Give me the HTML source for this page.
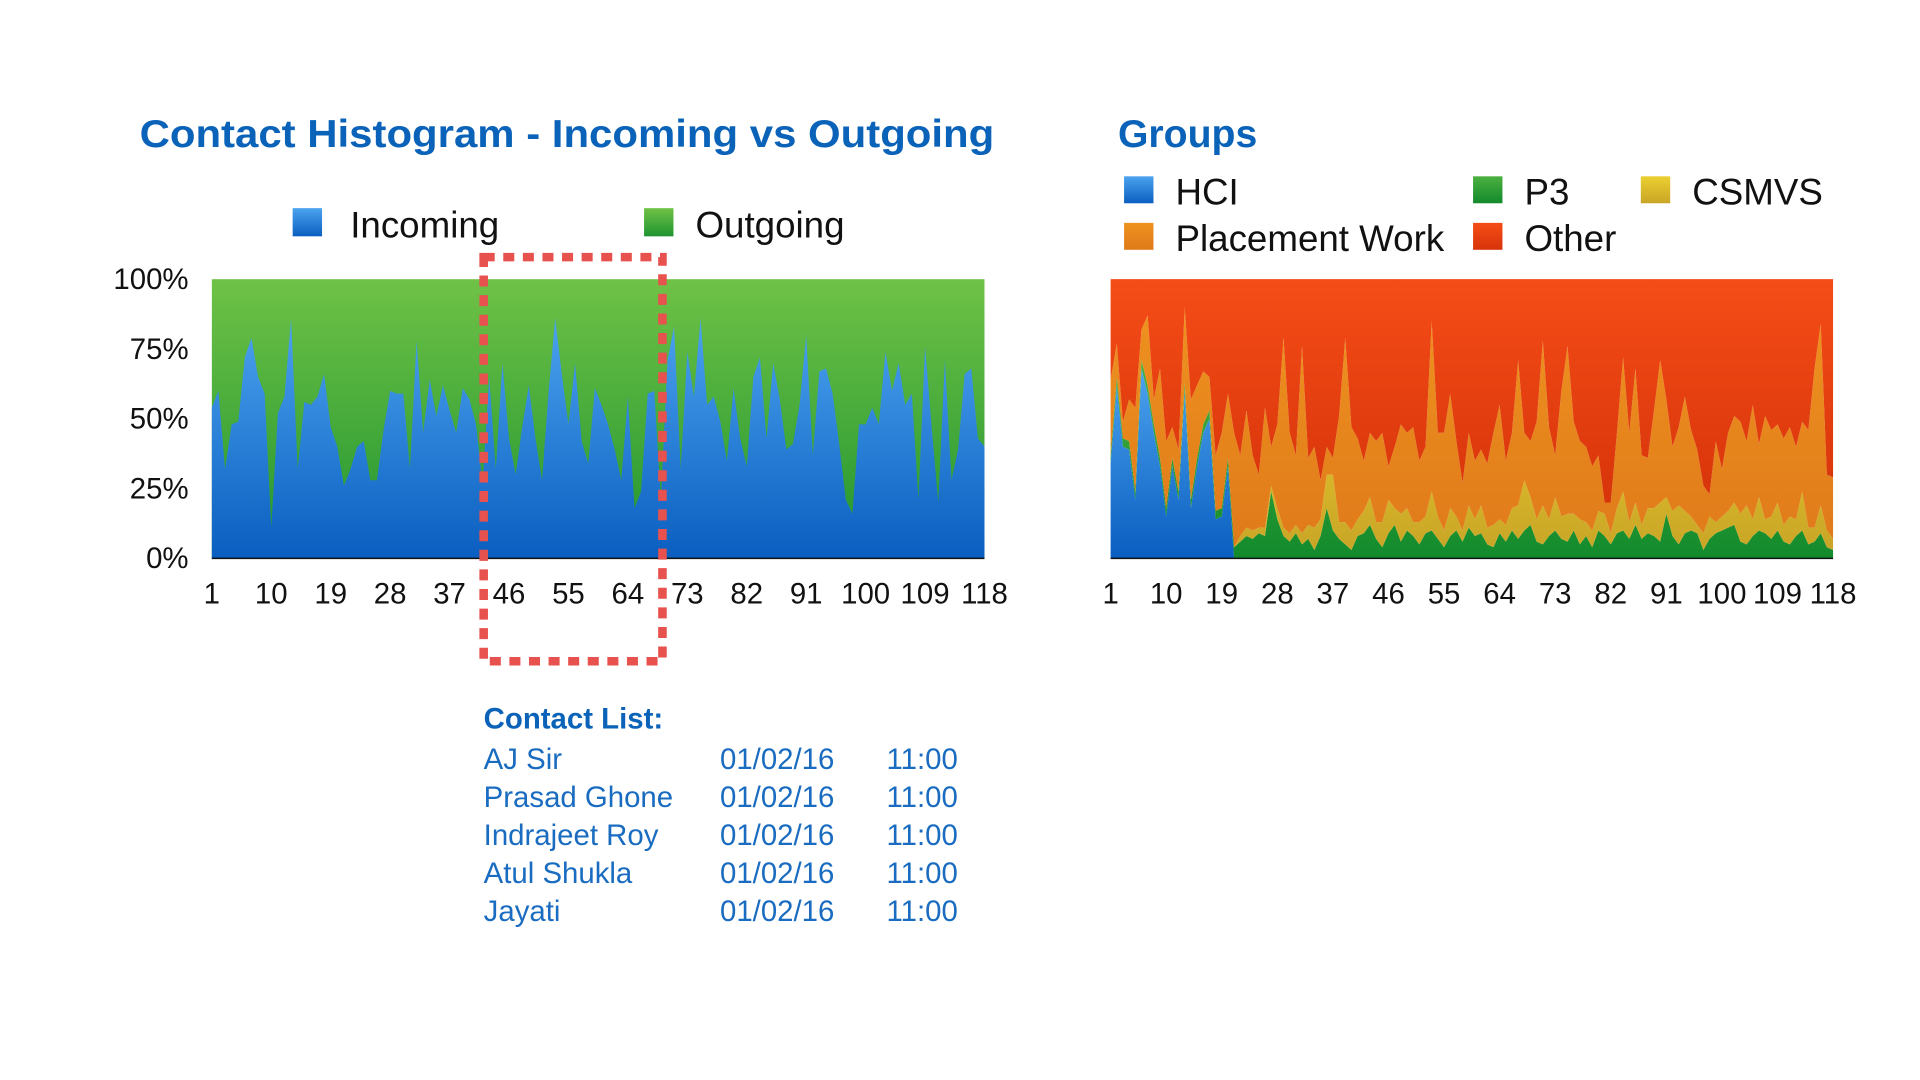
<!DOCTYPE html>
<html><head><meta charset="utf-8"><style>
html,body{margin:0;padding:0;background:#fff;width:1920px;height:1080px;overflow:hidden}
svg{display:block}
text{font-family:"Liberation Sans",sans-serif}
</style></head><body>
<svg id="root" width="1920" height="1080" viewBox="0 0 1568 882" preserveAspectRatio="none">
<defs>
<linearGradient id="gBlue" x1="0" y1="0" x2="0" y2="1"><stop offset="0" stop-color="#4ca3ee"/><stop offset="1" stop-color="#0a5ec0"/></linearGradient>
<linearGradient id="gGreen" x1="0" y1="0" x2="0" y2="1"><stop offset="0" stop-color="#6fc246"/><stop offset="1" stop-color="#1f9430"/></linearGradient>
<linearGradient id="gRed" x1="0" y1="0" x2="0" y2="1"><stop offset="0" stop-color="#f54d17"/><stop offset="1" stop-color="#d7340a"/></linearGradient>
<linearGradient id="gOrange" x1="0" y1="0" x2="0" y2="1"><stop offset="0" stop-color="#ee921f"/><stop offset="1" stop-color="#e07a1a"/></linearGradient>
<linearGradient id="gYellow" x1="0" y1="0" x2="0" y2="1"><stop offset="0" stop-color="#ecd030"/><stop offset="1" stop-color="#c9a526"/></linearGradient>
<linearGradient id="gP3" x1="0" y1="0" x2="0" y2="1"><stop offset="0" stop-color="#4cb040"/><stop offset="1" stop-color="#128a2c"/></linearGradient>
</defs>
<text x="114" y="120" font-size="32" font-weight="bold" fill="#0a63b8" textLength="698" lengthAdjust="spacingAndGlyphs">Contact Histogram - Incoming vs Outgoing</text>
<g>
<rect x="239" y="170" width="24" height="23" fill="url(#gBlue)"/>
<text x="286" y="194" font-size="30" fill="#111">Incoming</text>
<rect x="526" y="170" width="24" height="23" fill="url(#gGreen)"/>
<text x="568" y="194" font-size="30" fill="#111">Outgoing</text>
</g>
<g id="left"></g>
<rect x="395" y="210" width="146" height="330" fill="none" stroke="#e8524e" stroke-width="7" stroke-dasharray="9 7"/>
<text x="913" y="120" font-size="32" font-weight="bold" fill="#0a63b8">Groups</text>
<g>
<rect x="918" y="144" width="24" height="22" fill="url(#gBlue)"/>
<text x="960" y="167" font-size="30" fill="#111">HCI</text>
<rect x="1203" y="144" width="24" height="22" fill="url(#gP3)"/>
<text x="1245" y="167" font-size="30" fill="#111">P3</text>
<rect x="1340" y="144" width="24" height="22" fill="url(#gYellow)"/>
<text x="1382" y="167" font-size="30" fill="#111">CSMVS</text>
<rect x="918" y="182" width="24" height="22" fill="url(#gOrange)"/>
<text x="960" y="205" font-size="30" fill="#111">Placement Work</text>
<rect x="1203" y="182" width="24" height="22" fill="url(#gRed)"/>
<text x="1245" y="205" font-size="30" fill="#111">Other</text>
</g>
<g id="right"></g>
<g fill="#1a6cc0" font-size="24">
<text x="395" y="595" font-weight="bold" fill="#0a63b8">Contact List:</text>
<g><text x="395" y="628">AJ Sir</text><text x="588" y="628">01/02/16</text><text x="724" y="628">11:00</text></g>
<g><text x="395" y="659">Prasad Ghone</text><text x="588" y="659">01/02/16</text><text x="724" y="659">11:00</text></g>
<g><text x="395" y="690">Indrajeet Roy</text><text x="588" y="690">01/02/16</text><text x="724" y="690">11:00</text></g>
<g><text x="395" y="721">Atul Shukla</text><text x="588" y="721">01/02/16</text><text x="724" y="721">11:00</text></g>
<g><text x="395" y="752">Jayati</text><text x="588" y="752">01/02/16</text><text x="724" y="752">11:00</text></g>
</g>
</svg>
<script>
const xTickLabels = [1,10,19,28,37,46,55,64,73,82,91,100,109,118];
const yTickLabels = ["0%","25%","50%","75%","100%"];
const yTickValues = [0,25,50,75,100];
const incoming = [54,60,32,48,49,72,79,65,59,11, 52,58,86,32,56,55,58,66,47,40, 26,32,40,42,28,28,46,60,59,59, 32,78,45,64,51,62,53,45,61,57, 48,27,65,32,70,43,30,47,62,43, 28,60,86,66,48,70,42,34,61,55, 48,39,28,58,18,24,59,60,21,71, 83,32,74,58,86,55,58,49,35,61, 43,33,65,72,43,70,57,39,41,55, 80,37,67,68,59,41,21,16,48,48, 54,48,74,60,70,55,59,21,76,47, 20,71,28,39,66,68,43,40];
const hci = [34,62,40,39,21,68,59,45,33,15, 33,21,60,18,33,45,50,14,15,33];
const p3 = [3,3,3,3,3,3,3,3,3,3, 3,3,3,3,3,3,3,3,3,3, 4,6,8,7,9,8,24,14,8,6, 9,5,7,3,8,18,10,7,5,3, 8,9,12,7,4,9,12,6,10,8, 5,9,10,7,4,8,10,6,11,8, 9,5,4,9,6,10,7,10,12,6, 5,8,10,7,6,10,5,8,4,10, 8,5,9,10,7,12,7,9,8,6, 16,8,5,9,10,9,3,7,9,10, 11,12,6,5,8,10,9,7,10,6, 5,8,10,5,6,9,4,3];
const csmvs = [0,0,0,0,0,0,0,0,0,0, 0,0,0,0,0,0,0,0,0,0, 0,2,3,3,2,3,2,4,3,3, 3,4,5,8,6,12,20,6,8,7, 6,8,10,6,9,12,6,10,8,5, 8,6,14,8,6,10,5,4,8,6, 10,6,8,5,6,8,12,18,10,8, 14,6,12,8,10,6,9,5,6,7, 8,4,9,14,6,8,5,9,10,14, 6,9,14,8,5,3,6,8,4,5, 6,8,10,14,6,12,5,8,10,6, 10,6,14,6,5,10,6,4];
const other = [36,23,51,43,46,18,13,43,32,58, 53,61,10,43,38,33,35,63,55,41, 55,63,47,63,70,46,60,52,21,55, 63,24,64,60,72,60,64,49,21,53, 57,65,55,58,55,67,60,52,55,53, 65,60,15,55,55,41,58,73,55,65, 61,66,55,45,65,55,29,55,58,51, 22,53,63,40,24,51,58,60,67,63, 80,80,55,28,55,32,63,64,47,29, 43,60,53,42,54,61,74,77,58,68, 55,49,51,58,45,59,49,54,52,57, 53,60,51,54,32,16,70,71];

const NS="http://www.w3.org/2000/svg";
function mk(parent,tag,attrs){const e=document.createElementNS(NS,tag);for(const k in attrs)e.setAttribute(k,attrs[k]);parent.appendChild(e);return e;}
const N=incoming.length;

function drawAxes(g,x0,x1,y0,y1,withY){
  const xs=i=>x0+(i-1)*(x1-x0)/(N-1);
  xTickLabels.forEach(v=>{
    const t=mk(g,'text',{x:xs(v),y:493,'font-size':24,'text-anchor':'middle',fill:'#111'});
    
    
    t.textContent=v;
  });
  if(withY){
    yTickValues.forEach((v,k)=>{
      const t=mk(g,'text',{x:154,y:y0-(y0-y1)*v/100+8,'font-size':24,'text-anchor':'end',fill:'#111'});
      
      
      t.textContent=yTickLabels[k];
    });
  }
  const ax=mk(g,'line',{x1:x0,x2:x1,y1:y0,y2:y0,stroke:'#111','stroke-width':1.2});
  
  
}

(function(){
  const g=document.getElementById('left');
  const x0=173,x1=804,y0=456,y1=228;
  const xs=i=>x0+i*(x1-x0)/(N-1);
  const ys=v=>y0-(y0-y1)*v/100;
  const bg=mk(g,'rect',{x:x0,y:y1,width:x1-x0,height:y0-y1,fill:'url(#gGreen)'});
  
  
  let d='M'+xs(0)+','+ys(0);
  incoming.forEach((v,i)=>{d+=' L'+xs(i)+','+ys(v);});
  d+=' L'+xs(N-1)+','+ys(0)+' Z';
  const a=mk(g,'path',{d:d,fill:'url(#gBlue)'});
  
  
  drawAxes(g,x0,x1,y0,y1,true);
})();

(function(){
  const g=document.getElementById('right');
  const x0=907,x1=1497,y0=456,y1=228;
  const xs=i=>x0+i*(x1-x0)/(N-1);
  const ys=v=>y0-(y0-y1)*Math.min(100,v)/100;
  const h=i=>hci[i]||0, p=i=>p3[i]||0, c=i=>csmvs[i]||0, o=i=>other[i]||0;
  const pl=i=>Math.max(0,100-h(i)-p(i)-c(i)-o(i));
  const series=[['hci-area',h,'url(#gBlue)'],['p3-area',p,'url(#gP3)'],['csmvs-area',c,'url(#gYellow)'],['placement-work-area',pl,'url(#gOrange)'],['other-area',o,'url(#gRed)']];
  const base=new Array(N).fill(0);
  series.forEach(([name,fn,fill])=>{
    const top=base.map((b,i)=>b+fn(i));
    let d='M'+xs(0)+','+ys(top[0]);
    for(let i=1;i<N;i++)d+=' L'+xs(i)+','+ys(top[i]);
    for(let i=N-1;i>=0;i--)d+=' L'+xs(i)+','+ys(base[i]);
    d+=' Z';
    const a=mk(g,'path',{d:d,fill:fill});
    
    
    top.forEach((v,i)=>base[i]=v);
  });
  drawAxes(g,x0,x1,y0,y1,false);
})();
</script>
</body></html>
